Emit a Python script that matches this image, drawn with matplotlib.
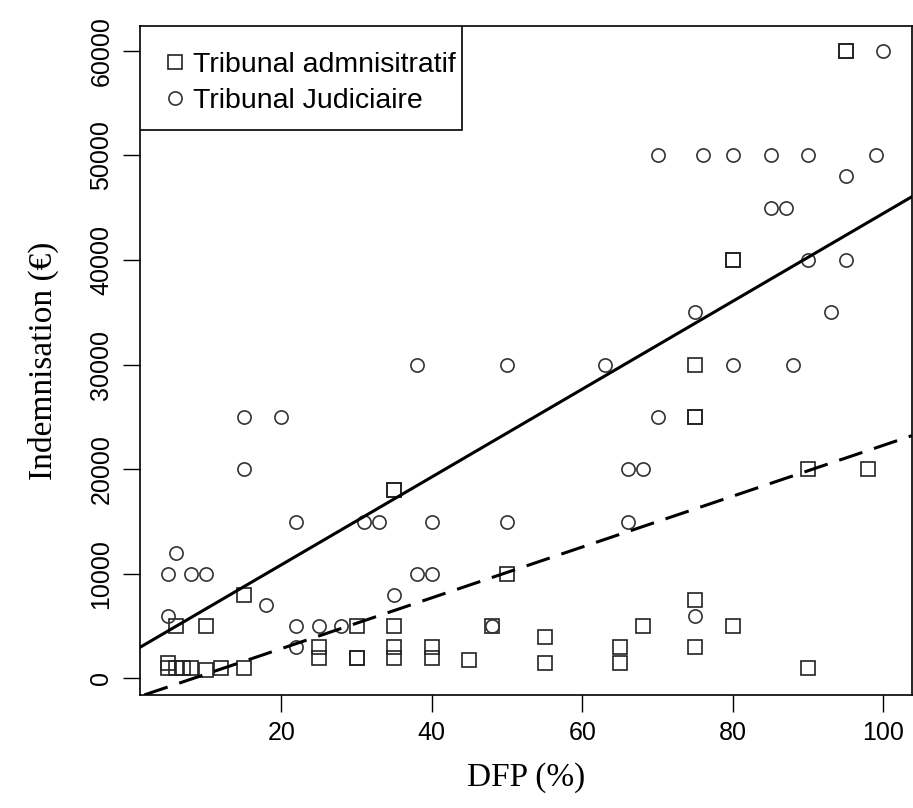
import matplotlib.pyplot as plt
from matplotlib.patches import Rectangle

# Tribunal administratif (squares)
ta_dfp = [95, 95, 80, 80, 75, 75, 75, 90, 98, 35, 35, 50, 15, 75,
          6, 10, 30, 35, 48, 68, 80, 55, 25, 35, 40, 65, 75,
          25, 30, 30, 35, 40, 45, 55, 65,
          5, 5, 6, 7, 8, 10, 12, 15, 90]
ta_indem = [60000, 60000, 40000, 40000, 30000, 25000, 25000, 20000, 20000, 18000, 18000, 10000, 8000, 7500,
            5000, 5000, 5000, 5000, 5000, 5000, 5000, 4000, 3000, 3000, 3000, 3000, 3000,
            2000, 2000, 2000, 2000, 2000, 1800, 1500, 1500,
            1500, 1000, 1000, 1000, 1000, 800, 1000, 1000, 1000]

# Tribunal Judiciaire (circles)
tj_dfp = [100, 70, 76, 80, 85, 90, 99, 95, 85, 87, 90, 95, 75, 93,
          38, 50, 63, 80, 88, 15, 20, 70, 15, 66, 68,
          22, 31, 33, 40, 50, 66, 6, 5, 8, 10, 38, 40,
          35, 18, 5, 75, 22, 25, 28, 48, 22]
tj_indem = [60000, 50000, 50000, 50000, 50000, 50000, 50000, 48000, 45000, 45000, 40000, 40000, 35000, 35000,
            30000, 30000, 30000, 30000, 30000, 25000, 25000, 25000, 20000, 20000, 20000,
            15000, 15000, 15000, 15000, 15000, 15000, 12000, 10000, 10000, 10000, 10000, 10000,
            8000, 7000, 6000, 6000, 5000, 5000, 5000, 5000, 3000]

# fitted lines (intercept, slope)
fit_tj = (2456, 420)
fit_ta = (-2013, 243)

fig = plt.figure(figsize=(9.13, 8.08), dpi=100)
ax = fig.add_axes([0.153, 0.140, 0.846, 0.828])

ax.plot(ta_dfp, ta_indem, linestyle='none', marker='s', ms=9.5, mfc='none',
        mec='#222222', mew=1.2, label='Tribunal admnisitratif')
ax.plot(tj_dfp, tj_indem, linestyle='none', marker='o', ms=9.5, mfc='none',
        mec='#333333', mew=1.2, label='Tribunal Judiciaire')

ax.axline((0, fit_tj[0]), slope=fit_tj[1], color='black', lw=2.2)
ax.axline((0, fit_ta[0]), slope=fit_ta[1], color='black', lw=2.2, dashes=(8, 4))

ax.set_xlim(1.2, 103.8)
ax.set_ylim(-1568, 62368)
ax.set_xticks([20, 40, 60, 80, 100])
ax.set_yticks([0, 10000, 20000, 30000, 40000, 50000, 60000])
ax.tick_params(direction='out', length=12, width=1, labelsize=18, pad=7,
               labelfontfamily='Liberation Sans')
for lab in ax.get_yticklabels():
    lab.set_rotation(90)
    lab.set_va('center')

for s in ax.spines.values():
    s.set_linewidth(1.2)

ax.set_xlabel('DFP (%)', family='Liberation Serif', fontsize=24, labelpad=12)
ax.set_ylabel('Indemnisation (€)', family='Liberation Serif', fontsize=24, labelpad=22)

# legend box drawn like R's legend()
ax.add_patch(Rectangle((0, 0.844), 0.417, 0.156, transform=ax.transAxes,
                       facecolor='white', edgecolor='black', lw=1.2, zorder=4))
leg = ax.legend(loc='upper left', bbox_to_anchor=(-0.0026, 0.9955), borderaxespad=0,
                frameon=False, prop={'family': 'Liberation Sans', 'size': 20.5},
                handlelength=1.0, handletextpad=0.13, borderpad=0.8,
                labelspacing=0.35)
leg.set_zorder(5)

fig.savefig('out.png', dpi=100)
